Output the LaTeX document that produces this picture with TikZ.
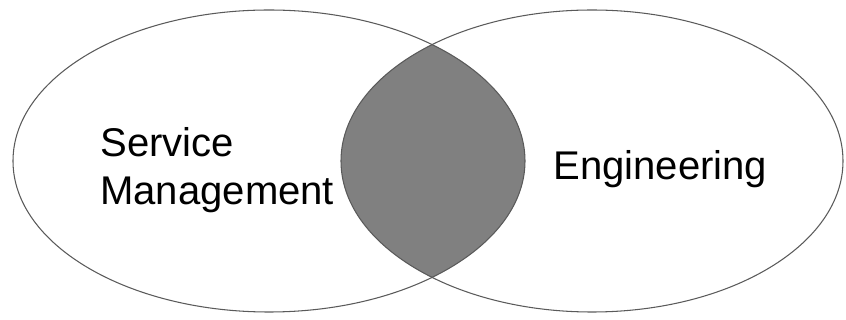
\documentclass[tikz,border=0pt]{standalone}
\usepackage{fontspec}
\setmainfont{Liberation Sans}
\definecolor{lensgray}{RGB}{128,128,128}
\definecolor{rimgray}{RGB}{90,90,90}
\tikzset{
  setrim/.style={draw=rimgray, line width=0.6pt},
  setlabel/.style={inner sep=0pt, font=\fontsize{22.8pt}{27.3pt}\selectfont, align=left}
}
\begin{document}
\begin{tikzpicture}[x=0.02cm, y=-0.02cm]
\useasboundingbox (0,0) rectangle (846,320);

% Overlap of the two sets
\begin{scope}
  \clip (269,161) ellipse [x radius=256, y radius=151];
  \fill[lensgray] (592,161) ellipse [x radius=251, y radius=151];
\end{scope}

% The two sets
\draw[setrim] (269,161) ellipse [x radius=256, y radius=151];
\draw[setrim] (592,161) ellipse [x radius=251, y radius=151];

% Labels
\node[setlabel, anchor=north west] (service) at (100,127) {Service\\Management};
\node[setlabel, anchor=base west] (engineering) at (553,180) {Engineering};
\end{tikzpicture}
\end{document}
